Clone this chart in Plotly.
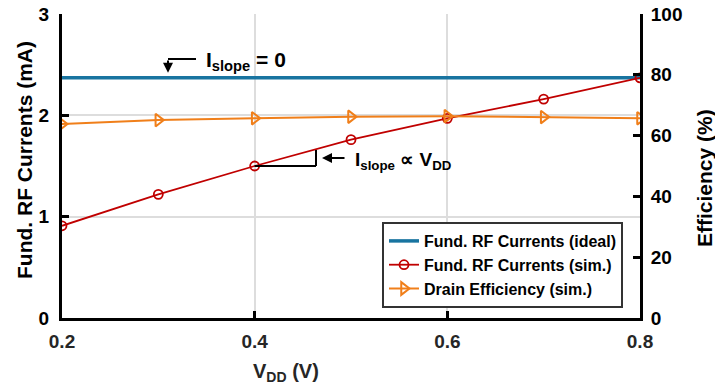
import plotly.graph_objects as go

vdd = [0.2, 0.3, 0.4, 0.5, 0.6, 0.7, 0.8]
i_ideal = [2.37] * 7
i_sim = [0.91, 1.22, 1.50, 1.76, 1.97, 2.16, 2.37]
eff_sim = [63.8, 65.1, 65.7, 66.2, 66.4, 66.1, 65.7]

x_ticks = [0.2, 0.4, 0.6, 0.8]
y1_ticks = [0, 1, 2, 3]
y2_ticks = [0, 20, 40, 60, 80, 100]

FONT = "Liberation Sans"
RED = "#c00000"
ORANGE = "#f07f1a"

fig = go.Figure()
fig.add_trace(go.Scatter(x=vdd, y=i_ideal, mode="lines", name="Fund. RF Currents (ideal)",
                         line=dict(color="#1874a0", width=3.5)))
fig.add_trace(go.Scatter(x=vdd, y=i_sim, mode="lines+markers", name="Fund. RF Currents (sim.)",
                         line=dict(color=RED, width=1.8),
                         marker=dict(symbol="circle-open", size=9, color=RED, line=dict(width=1.8))))
fig.add_trace(go.Scatter(x=vdd, y=eff_sim, mode="lines+markers", name="Drain Efficiency (sim.)",
                         yaxis="y2",
                         line=dict(color=ORANGE, width=2),
                         marker=dict(symbol="triangle-right-open", size=11, color=ORANGE, line=dict(width=2))))

def tf(color="black", size=19):
    return dict(family=FONT, size=size, color=color, weight="bold")

axis_common = dict(showline=True, linecolor="black", linewidth=3, ticks="inside",
                   ticklen=7, tickwidth=3, tickcolor="black", zeroline=False, automargin=False)

fig.update_layout(
    width=715, height=390,
    margin=dict(l=62, r=75, t=14, b=72, autoexpand=False),
    paper_bgcolor="white", plot_bgcolor="white",
    font=dict(family=FONT, size=15, color="black"),
    xaxis=dict(range=[0.2, 0.8], tickvals=x_ticks, ticktext=[f"{v:.1f}" for v in x_ticks],
               showgrid=True, gridcolor="#dddddd", gridwidth=2, ticklabelstandoff=4,
               tickfont=tf("#262626"), **axis_common),
    yaxis=dict(range=[0, 3], tickvals=y1_ticks, showgrid=True, gridcolor="#dddddd", gridwidth=2,
               ticklabelstandoff=6, tickfont=tf(), **axis_common),
    yaxis2=dict(range=[0, 100], tickvals=y2_ticks, overlaying="y", side="right", showgrid=False,
                ticklabelstandoff=4, tickfont=tf(), **axis_common),
    showlegend=True,
    legend=dict(x=(382 - 62) / 578, y=(318 - 308) / 304, xanchor="left", yanchor="bottom",
                bgcolor="white", bordercolor="#333333", borderwidth=2,
                font=tf("black", 16), tracegroupgap=0, itemwidth=30),
)

def px_x(p):
    return 0.2 + (p - 62) / 578 * 0.6

def px_y(p):
    return (318 - p) / 304 * 3

# Axis titles as annotations
fig.add_annotation(xref="paper", yref="paper", x=(286 - 62) / 578, y=(318 - 372) / 304,
                   xanchor="center", yanchor="middle",
                   text="V<sub>DD</sub> (V)", showarrow=False, font=tf("#262626", 20))
fig.add_annotation(xref="paper", yref="paper", x=(24 - 62) / 578, y=(318 - 160) / 304,
                   xanchor="center", yanchor="middle",
                   text="Fund. RF Currents (mA)", showarrow=False, textangle=-90, font=tf("black", 21))
fig.add_annotation(xref="paper", yref="paper", x=(704 - 62) / 578, y=(318 - 178) / 304,
                   xanchor="center", yanchor="middle",
                   text="Efficiency (%)", showarrow=False, textangle=-90, font=tf("black", 21))

# I_slope = 0 annotation
ax0 = px_x(168)
fig.add_shape(type="line", x0=ax0, x1=px_x(196), y0=px_y(59), y1=px_y(59),
              line=dict(color="black", width=2))
fig.add_annotation(x=ax0, y=i_ideal[0] + 0.05, ax=ax0, ay=px_y(59), axref="x", ayref="y",
                   xref="x", yref="y", text="", showarrow=True, arrowhead=2, arrowsize=1,
                   arrowwidth=2, arrowcolor="black")
fig.add_annotation(x=px_x(204), y=px_y(61), xanchor="left", yanchor="middle",
                   text="I<sub>slope</sub> = 0",
                   showarrow=False, font=tf("black", 21))

# I_slope proportional to VDD annotation
xc = px_x(316)
fig.add_shape(type="line", x0=vdd[2], x1=xc, y0=i_sim[2], y1=i_sim[2],
              line=dict(color="black", width=2))
fig.add_shape(type="line", x0=xc, x1=xc, y0=i_sim[2], y1=px_y(150),
              line=dict(color="black", width=2))
fig.add_annotation(x=px_x(322), y=px_y(158), ax=px_x(346), ay=px_y(158), axref="x", ayref="y",
                   xref="x", yref="y", text="", showarrow=True, arrowhead=2, arrowsize=1,
                   arrowwidth=2, arrowcolor="black")
fig.add_annotation(x=px_x(353), y=px_y(161), xanchor="left", yanchor="middle",
                   text="I<sub>slope</sub> \u221d V<sub>DD</sub>",
                   showarrow=False, font=tf("black", 19))

fig.write_html("out.html")
